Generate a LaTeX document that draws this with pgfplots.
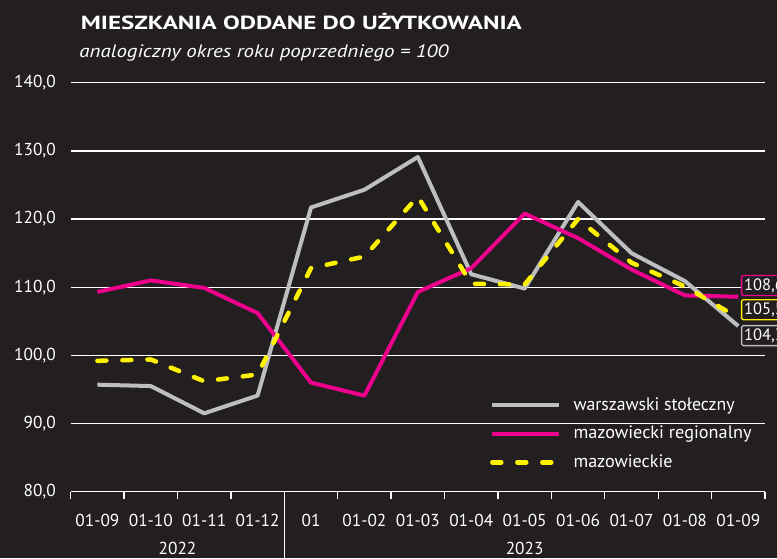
\documentclass[border=0pt]{standalone}
\usepackage{pgfplots}
\pgfplotsset{compat=1.18}
\usepackage{graphicx}
\usepackage{fontspec}
\setmainfont{PT Sans}
\definecolor{bg}{HTML}{231F20}
\definecolor{cgrey}{HTML}{BCBEC0}
\definecolor{cmag}{HTML}{EC008C}
\definecolor{cyel}{HTML}{FFF200}
\newcommand{\tickfont}{\fontsize{17.3}{20}\selectfont}
\newcommand{\legfont}{\fontsize{18}{21}\selectfont}
\begin{document}
\begin{tikzpicture}[x=1pt,y=1pt]
\fill[bg] (-70.7,-66.3) rectangle (706.3,491.7);
\node[anchor=base west, inner sep=0pt, text=white, font=\fontsize{19}{22}\selectfont\bfseries] at (10,461.7) {\resizebox{441pt}{\height}{MIESZKANIA ODDANE DO UŻYTKOWANIA}};
\node[anchor=base west, inner sep=0pt, text=white, font=\fontsize{18}{21}\selectfont\itshape] at (8.6,434.4) {\resizebox{369pt}{\height}{analogiczny okres roku poprzedniego = 100}};
\begin{axis}[
  at={(0,0)}, anchor=south west,
  scale only axis, width=694.3pt, height=409pt,
  xmin=0, xmax=13, ymin=80, ymax=140,
  clip=false,
  axis line style={draw=none},
  ytick={80,90,...,140},
  ymajorgrids, grid style={white, line width=1.3pt},
  ytick style={draw=none},
  yticklabel style={text=white, font=\tickfont, inner sep=0pt, xshift=-7.7pt},
  /pgf/number format/.cd, fixed, fixed zerofill, precision=1, use comma, assume math mode=true,
  /pgfplots/.cd,
  xtick={0,...,13},
  x tick label as interval,
  xticklabels={01-09,01-10,01-11,01-12,01,01-02,01-03,01-04,01-05,01-06,01-07,01-08,01-09},
  xtick pos=bottom, tick align=outside, major tick length=7pt,
  xtick style={white, line width=1.3pt},
  xticklabel style={text=white, font=\tickfont, anchor=north, inner sep=0pt, text height=12.8pt, text depth=0pt, yshift=-14.3pt},
  legend style={at={(axis description cs:0.604,0.234)}, anchor=north west, draw=none, fill=none, text=white,
    inner sep=0pt, outer sep=0pt,
    font=\legfont, nodes={inner sep=0pt, outer sep=0pt, text height=14pt, text depth=4.5pt}, row sep=10pt},
  legend cell align=left,
  /tikz/every odd column/.append style={column sep=12pt},
  legend image code/.code={\draw[#1] (0pt,0pt) -- (67pt,0pt);},
]
\addplot[cgrey, line width=4pt, line join=round] coordinates {
(0.5,95.7) (1.5,95.5) (2.5,91.5) (3.5,94.1) (4.5,121.7) (5.5,124.3) (6.5,129.1)
(7.5,111.9) (8.5,109.8) (9.5,122.5) (10.5,115.0) (11.5,110.9) (12.5,104.3)};
\addlegendentry{\resizebox{161pt}{\height}{warszawski stołeczny}}
\addplot[cmag, line width=4pt, line join=round] coordinates {
(0.5,109.3) (1.5,111.0) (2.5,109.9) (3.5,106.2) (4.5,96.0) (5.5,94.1) (6.5,109.3)
(7.5,112.8) (8.5,120.8) (9.5,117.2) (10.5,112.6) (11.5,108.8) (12.5,108.6)};
\addlegendentry{\resizebox{178pt}{\height}{mazowiecki regionalny}}
\addplot[cyel, line width=4.5pt, line cap=round, line join=round, dash pattern=on 9pt off 16pt] coordinates {
(0.5,99.2) (1.5,99.4) (2.5,96.2) (3.5,97.2) (4.5,112.8) (5.5,114.5) (6.5,123.3)
(7.5,110.5) (8.5,110.4) (9.5,120.0) (10.5,113.6) (11.5,110.1) (12.5,105.5)};
\addlegendentry{\resizebox{99pt}{\height}{mazowieckie}}
\draw[white, line width=1.3pt] (axis cs:4,80) -- ++(0,-35pt);
\node[anchor=base, inner sep=0pt, text depth=0pt, text=white, font=\tickfont] at ([yshift=-62.8pt]axis cs:2,80) {2022};
\node[anchor=base, inner sep=0pt, text depth=0pt, text=white, font=\tickfont] at ([yshift=-62.8pt]axis cs:8.5,80) {2023};
\node[draw=cmag, fill=bg, text=white, rounded corners=1.5pt, line width=1.3pt, inner xsep=2.5pt, inner ysep=0pt, minimum height=20pt, anchor=west, font=\fontsize{16.5}{19}\selectfont] at (axis cs:12.55,110.25) {108,6};
\node[draw=cyel, fill=bg, text=white, rounded corners=1.5pt, line width=1.3pt, inner xsep=2.5pt, inner ysep=0pt, minimum height=20pt, anchor=west, font=\fontsize{16.5}{19}\selectfont] at (axis cs:12.55,106.7) {105,5};
\node[draw=cgrey, fill=bg, text=white, rounded corners=1.5pt, line width=1.3pt, inner xsep=2.5pt, inner ysep=0pt, minimum height=20pt, anchor=west, font=\fontsize{16.5}{19}\selectfont] at (axis cs:12.55,102.9) {104,3};
\end{axis}
\pgfresetboundingbox
\useasboundingbox (-70.7,-66.3) rectangle (706.3,491.7);
\end{tikzpicture}
\end{document}
